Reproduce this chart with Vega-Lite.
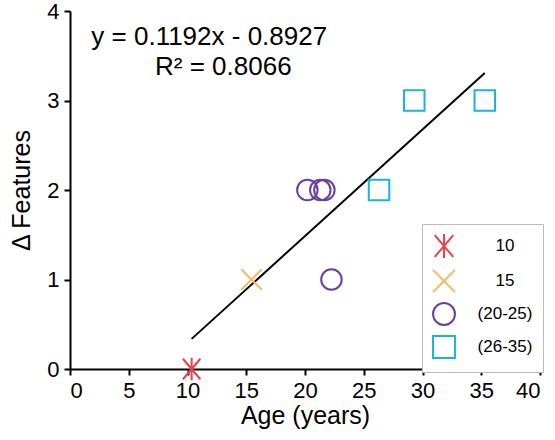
{
  "$schema": "https://vega.github.io/schema/vega-lite/v6.json",
  "width": 470,
  "height": 358,
  "autosize": {"type": "none"},
  "padding": {"left": 70, "top": 11, "right": 15, "bottom": 71},
  "background": "white",
  "config": {
    "view": {"stroke": null},
    "font": "Liberation Sans",
    "axis": {
      "grid": false,
      "domainColor": "black",
      "domainWidth": 2,
      "tickColor": "black",
      "tickWidth": 2,
      "tickSize": 6,
      "labelFont": "Liberation Sans",
      "labelFontSize": 22,
      "labelColor": "black",
      "labelPadding": 5,
      "titleFont": "Liberation Sans",
      "titleFontSize": 25,
      "titleFontWeight": "normal",
      "titleColor": "black"
    }
  },
  "layer": [
    {
      "data": {"name": "points"},
      "transform": [{"regression": "features", "on": "age"}],
      "mark": {"type": "line", "color": "black", "strokeWidth": 2},
      "encoding": {
        "x": {"field": "age", "type": "quantitative", "scale": {"domain": [0, 40]},
              "axis": {"values": [0, 5, 10, 15, 20, 25, 30, 35, 40], "format": "d", "title": "Age (years)", "titlePadding": 2}},
        "y": {"field": "features", "type": "quantitative", "scale": {"domain": [0, 4]},
              "axis": {"values": [0, 1, 2, 3, 4], "format": "d", "title": "Δ Features", "titlePadding": 12}}
      }
    },
    {
      "data": {"name": "points"},
      "mark": {"type": "point", "filled": false, "strokeWidth": 2, "size": 420, "opacity": 1},
      "encoding": {
        "x": {"field": "age", "type": "quantitative"},
        "y": {"field": "features", "type": "quantitative"},
        "shape": {
          "field": "group", "type": "nominal",
          "scale": {
            "domain": ["10", "15", "(20-25)", "(26-35)"],
            "range": ["M-0.85,-1L0.85,1M-0.85,1L0.85,-1M0,-1.1L0,1.1", "M-1,-1L1,1M-1,1L1,-1", "circle", "square"]
          },
          "legend": null
        },
        "color": {
          "field": "group", "type": "nominal",
          "scale": {
            "domain": ["10", "15", "(20-25)", "(26-35)"],
            "range": ["#e8424a", "#f9b86a", "#6b3fa0", "#1cb4d6"]
          },
          "legend": {
            "title": null,
            "orient": "none",
            "legendX": 352,
            "legendY": 213,
            "strokeColor": "#bbbbbb",
            "fillColor": "white",
            "padding": 10,
            "symbolSize": 480,
            "symbolStrokeWidth": 2,
            "labelFont": "Liberation Sans",
            "labelFontSize": 17,
            "labelColor": "black",
            "labelAlign": "center",
            "labelOffset": 49,
            "rowPadding": 3
          }
        }
      }
    },
    {
      "data": {"name": "equation"},
      "mark": {"type": "text", "fontSize": 26, "fontWeight": "normal", "font": "Liberation Sans", "color": "black", "align": "center", "baseline": "middle"},
      "encoding": {
        "x": {"datum": 11.85},
        "y": {"datum": 3.71},
        "text": {"field": "label"}
      }
    },
    {
      "data": {"name": "rsquared"},
      "mark": {"type": "text", "fontSize": 26, "fontWeight": "normal", "font": "Liberation Sans", "color": "black", "align": "center", "baseline": "middle"},
      "encoding": {
        "x": {"datum": 13.05},
        "y": {"datum": 3.37},
        "text": {"field": "label"}
      }
    }
  ],
  "datasets": {
    "points": [
      {"age": 10.35, "features": 0, "group": "10"},
      {"age": 15.45, "features": 1, "group": "15"},
      {"age": 20.2, "features": 2, "group": "(20-25)"},
      {"age": 21.3, "features": 2, "group": "(20-25)"},
      {"age": 21.65, "features": 2, "group": "(20-25)"},
      {"age": 22.25, "features": 1, "group": "(20-25)"},
      {"age": 26.3, "features": 2, "group": "(26-35)"},
      {"age": 29.3, "features": 3, "group": "(26-35)"},
      {"age": 35.3, "features": 3, "group": "(26-35)"}
    ],
    "equation": [{"label": "y = 0.1192x - 0.8927"}],
    "rsquared": [{"label": "R² = 0.8066"}]
  }
}
